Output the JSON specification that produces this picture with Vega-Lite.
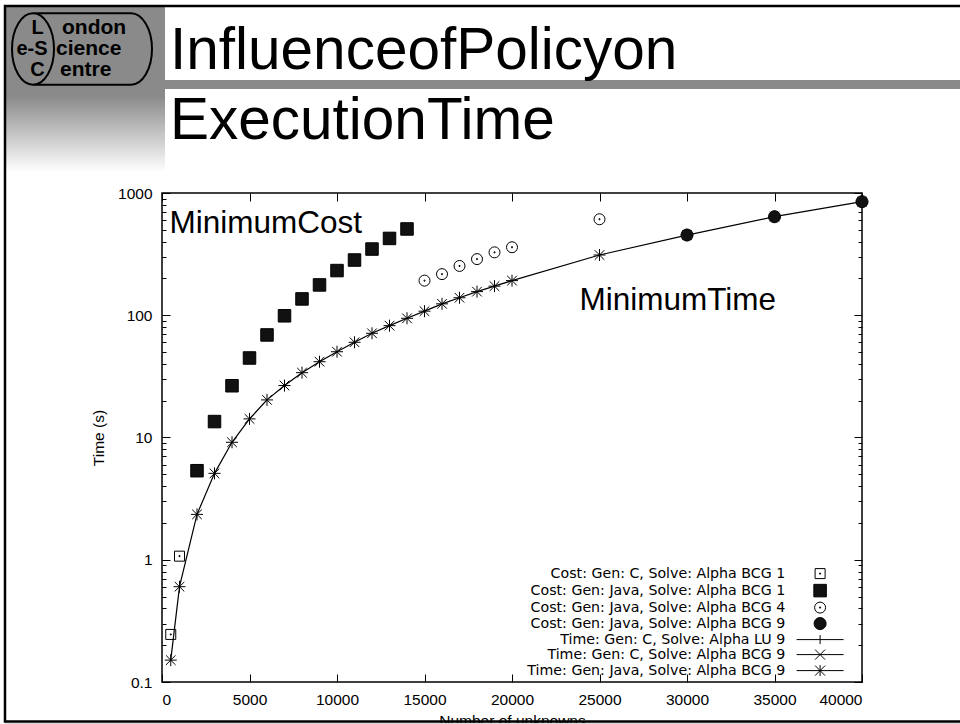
{
  "$schema": "https://vega.github.io/schema/vega-lite/v6.json",
  "width": 700,
  "height": 489,
  "autosize": {"type": "none"},
  "padding": {"left": 162, "top": 193, "right": 98, "bottom": 42},
  "background": "white",
  "config": {
    "view": {"stroke": "black", "strokeWidth": 1.5},
    "font": "Liberation Sans",
    "axis": {"grid": false, "domain": false, "labelFont": "Liberation Sans", "labelFontSize": 15, "labelColor": "black", "tickColor": "black", "tickWidth": 1, "titleFont": "Liberation Sans", "titleFontSize": 15, "titleFontWeight": "normal", "titleColor": "black"},
    "text": {"font": "Liberation Sans", "color": "black"}
  },
  "datasets": {
    "cost": [
      {"n": 500, "t": 0.245, "s": "Cost: Gen: C, Solve: Alpha BCG 1"},
      {"n": 1000, "t": 1.07, "s": "Cost: Gen: C, Solve: Alpha BCG 1"},
      {"n": 2000, "t": 5.35, "s": "Cost: Gen: Java, Solve: Alpha BCG 1"},
      {"n": 3000, "t": 13.5, "s": "Cost: Gen: Java, Solve: Alpha BCG 1"},
      {"n": 4000, "t": 26.5, "s": "Cost: Gen: Java, Solve: Alpha BCG 1"},
      {"n": 5000, "t": 44.7, "s": "Cost: Gen: Java, Solve: Alpha BCG 1"},
      {"n": 6000, "t": 69, "s": "Cost: Gen: Java, Solve: Alpha BCG 1"},
      {"n": 7000, "t": 99, "s": "Cost: Gen: Java, Solve: Alpha BCG 1"},
      {"n": 8000, "t": 136, "s": "Cost: Gen: Java, Solve: Alpha BCG 1"},
      {"n": 9000, "t": 177, "s": "Cost: Gen: Java, Solve: Alpha BCG 1"},
      {"n": 10000, "t": 232, "s": "Cost: Gen: Java, Solve: Alpha BCG 1"},
      {"n": 11000, "t": 283, "s": "Cost: Gen: Java, Solve: Alpha BCG 1"},
      {"n": 12000, "t": 348, "s": "Cost: Gen: Java, Solve: Alpha BCG 1"},
      {"n": 13000, "t": 425, "s": "Cost: Gen: Java, Solve: Alpha BCG 1"},
      {"n": 14000, "t": 508, "s": "Cost: Gen: Java, Solve: Alpha BCG 1"},
      {"n": 15000, "t": 192, "s": "Cost: Gen: Java, Solve: Alpha BCG 4"},
      {"n": 16000, "t": 217, "s": "Cost: Gen: Java, Solve: Alpha BCG 4"},
      {"n": 17000, "t": 253, "s": "Cost: Gen: Java, Solve: Alpha BCG 4"},
      {"n": 18000, "t": 288, "s": "Cost: Gen: Java, Solve: Alpha BCG 4"},
      {"n": 19000, "t": 327, "s": "Cost: Gen: Java, Solve: Alpha BCG 4"},
      {"n": 20000, "t": 360, "s": "Cost: Gen: Java, Solve: Alpha BCG 4"},
      {"n": 25000, "t": 610, "s": "Cost: Gen: Java, Solve: Alpha BCG 4"},
      {"n": 30000, "t": 453, "s": "Cost: Gen: Java, Solve: Alpha BCG 9"},
      {"n": 35000, "t": 640, "s": "Cost: Gen: Java, Solve: Alpha BCG 9"},
      {"n": 40000, "t": 849, "s": "Cost: Gen: Java, Solve: Alpha BCG 9"}
    ],
    "time": [
      {"n": 500, "t": 0.151, "s": "Time: Gen: Java, Solve: Alpha BCG 9"},
      {"n": 1000, "t": 0.602, "s": "Time: Gen: Java, Solve: Alpha BCG 9"},
      {"n": 2000, "t": 2.35, "s": "Time: Gen: Java, Solve: Alpha BCG 9"},
      {"n": 3000, "t": 5.09, "s": "Time: Gen: Java, Solve: Alpha BCG 9"},
      {"n": 4000, "t": 9.14, "s": "Time: Gen: Java, Solve: Alpha BCG 9"},
      {"n": 5000, "t": 14.2, "s": "Time: Gen: Java, Solve: Alpha BCG 9"},
      {"n": 6000, "t": 20.3, "s": "Time: Gen: Java, Solve: Alpha BCG 9"},
      {"n": 7000, "t": 26.6, "s": "Time: Gen: Java, Solve: Alpha BCG 9"},
      {"n": 8000, "t": 33.9, "s": "Time: Gen: Java, Solve: Alpha BCG 9"},
      {"n": 9000, "t": 41.7, "s": "Time: Gen: Java, Solve: Alpha BCG 9"},
      {"n": 10000, "t": 50.3, "s": "Time: Gen: Java, Solve: Alpha BCG 9"},
      {"n": 11000, "t": 60.1, "s": "Time: Gen: Java, Solve: Alpha BCG 9"},
      {"n": 12000, "t": 71.2, "s": "Time: Gen: Java, Solve: Alpha BCG 9"},
      {"n": 13000, "t": 82.2, "s": "Time: Gen: Java, Solve: Alpha BCG 9"},
      {"n": 14000, "t": 94.4, "s": "Time: Gen: Java, Solve: Alpha BCG 9"},
      {"n": 15000, "t": 108, "s": "Time: Gen: Java, Solve: Alpha BCG 9"},
      {"n": 16000, "t": 124, "s": "Time: Gen: Java, Solve: Alpha BCG 9"},
      {"n": 17000, "t": 139, "s": "Time: Gen: Java, Solve: Alpha BCG 9"},
      {"n": 18000, "t": 156, "s": "Time: Gen: Java, Solve: Alpha BCG 9"},
      {"n": 19000, "t": 173, "s": "Time: Gen: Java, Solve: Alpha BCG 9"},
      {"n": 20000, "t": 192, "s": "Time: Gen: Java, Solve: Alpha BCG 9"},
      {"n": 25000, "t": 311, "s": "Time: Gen: Java, Solve: Alpha BCG 9"},
      {"n": 30000, "t": 453, "s": "Time: Gen: Java, Solve: Alpha BCG 9"},
      {"n": 35000, "t": 640, "s": "Time: Gen: Java, Solve: Alpha BCG 9"},
      {"n": 40000, "t": 849, "s": "Time: Gen: Java, Solve: Alpha BCG 9"}
    ]
  },
  "resolve": {"axis": {"x": "independent", "y": "independent"}},
  "layer": [
    {
      "data": {"values": [{}]},
      "mark": {"type": "rect", "fill": {"gradient": "linear", "x1": 0, "y1": 0, "x2": 0, "y2": 1, "stops": [{"offset": 0, "color": "#8a8a8a"}, {"offset": 0.54, "color": "#8a8a8a"}, {"offset": 1, "color": "#ffffff"}]}},
      "encoding": {
        "x": {"datum": -8914.3, "type": "quantitative", "axis": null},
        "x2": {"datum": 171.4},
        "y": {"datum": 33225, "type": "quantitative", "axis": null},
        "y2": {"datum": 1485.3}
      }
    },
    {
      "data": {"values": [{}]},
      "mark": {"type": "rect", "fill": "#8a8a8a"},
      "encoding": {
        "x": {"datum": 171.4, "type": "quantitative", "axis": null},
        "x2": {"datum": 46171},
        "y": {"datum": 8401, "type": "quantitative", "axis": null},
        "y2": {"datum": 7091}
      }
    },
    {
      "data": {"values": [{}]},
      "mark": {"type": "point", "shape": "M-0.7,-0.511H0.7A0.3,0.511,0,0,1,0.7,0.511H-0.7A0.3,0.511,0,0,1,-0.7,-0.511Z M-0.7,-0.511A0.3,0.511,0,0,1,-0.7,0.511", "size": 19600, "filled": false, "stroke": "black", "strokeWidth": 2, "opacity": 1},
      "encoding": {
        "x": {"datum": -4571.4, "type": "quantitative", "axis": null},
        "y": {"datum": 15066, "type": "quantitative", "axis": null}
      }
    },
    {
      "data": {"values": [{}]},
      "mark": {"type": "text", "text": "L", "font": "Liberation Sans", "fontWeight": "bold", "fontSize": 20, "align": "center", "baseline": "alphabetic"},
      "encoding": {
        "x": {"datum": -7114.3, "type": "quantitative", "axis": null},
        "y": {"datum": 19979, "type": "quantitative", "axis": null}
      }
    },
    {
      "data": {"values": [{}]},
      "mark": {"type": "text", "text": "ondon", "font": "Liberation Sans", "fontWeight": "bold", "fontSize": 21, "align": "left", "baseline": "alphabetic"},
      "encoding": {
        "x": {"datum": -5714.3, "type": "quantitative", "axis": null},
        "y": {"datum": 19979, "type": "quantitative", "axis": null}
      }
    },
    {
      "data": {"values": [{}]},
      "mark": {"type": "text", "text": "e-S", "font": "Liberation Sans", "fontWeight": "bold", "fontSize": 20, "align": "center", "baseline": "alphabetic"},
      "encoding": {
        "x": {"datum": -7428.6, "type": "quantitative", "axis": null},
        "y": {"datum": 13454, "type": "quantitative", "axis": null}
      }
    },
    {
      "data": {"values": [{}]},
      "mark": {"type": "text", "text": "cience", "font": "Liberation Sans", "fontWeight": "bold", "fontSize": 21, "align": "left", "baseline": "alphabetic"},
      "encoding": {
        "x": {"datum": -6057.1, "type": "quantitative", "axis": null},
        "y": {"datum": 13454, "type": "quantitative", "axis": null}
      }
    },
    {
      "data": {"values": [{}]},
      "mark": {"type": "text", "text": "C", "font": "Liberation Sans", "fontWeight": "bold", "fontSize": 20, "align": "center", "baseline": "alphabetic"},
      "encoding": {
        "x": {"datum": -7114.3, "type": "quantitative", "axis": null},
        "y": {"datum": 9060, "type": "quantitative", "axis": null}
      }
    },
    {
      "data": {"values": [{}]},
      "mark": {"type": "text", "text": "entre", "font": "Liberation Sans", "fontWeight": "bold", "fontSize": 21, "align": "left", "baseline": "alphabetic"},
      "encoding": {
        "x": {"datum": -5828.6, "type": "quantitative", "axis": null},
        "y": {"datum": 9060, "type": "quantitative", "axis": null}
      }
    },
    {
      "data": {"values": [{}]},
      "mark": {"type": "text", "text": "InfluenceofPolicyon", "font": "Liberation Sans", "fontSize": 58.5, "align": "left", "baseline": "alphabetic"},
      "encoding": {
        "x": {"datum": 457.1, "type": "quantitative", "axis": null},
        "y": {"datum": 10335, "type": "quantitative", "axis": null}
      }
    },
    {
      "data": {"values": [{}]},
      "mark": {"type": "text", "text": "ExecutionTime", "font": "Liberation Sans", "fontSize": 58.5, "align": "left", "baseline": "alphabetic"},
      "encoding": {
        "x": {"datum": 457.1, "type": "quantitative", "axis": null},
        "y": {"datum": 2765, "type": "quantitative", "axis": null}
      }
    },
    {
      "data": {"name": "time"},
      "mark": {"type": "line", "color": "black", "strokeWidth": 1.2},
      "encoding": {
        "x": {"field": "n", "type": "quantitative", "scale": {"domain": [0, 40000], "nice": false, "zero": false},
              "axis": {"orient": "bottom", "values": [0, 5000, 10000, 15000, 20000, 25000, 30000, 35000, 40000], "format": "d", "ticks": false, "tickSize": 0, "labelPadding": 10, "labelFontSize": 15.5, "title": "Number of unknowns", "titleFontSize": 15.5, "titlePadding": 6}},
        "y": {"field": "t", "type": "quantitative", "scale": {"type": "log", "domain": [0.1, 1000], "nice": false},
              "axis": {"orient": "left", "values": [0.1, 1, 10, 100, 1000], "format": "~g", "ticks": false, "tickSize": 0, "labelPadding": 10, "labelFontSize": 15.5, "title": "Time (s)", "titleFontSize": 15.5, "titlePadding": 11}},
        "order": {"field": "n", "type": "quantitative"}
      }
    },
    {
      "data": {"name": "time"},
      "mark": {"type": "point", "shape": "M-1,0H1M0,-1V1M-0.8,-0.8L0.8,0.8M-0.8,0.8L0.8,-0.8", "size": 144, "filled": false, "stroke": "black", "strokeWidth": 1, "opacity": 1},
      "encoding": {
        "x": {"field": "n", "type": "quantitative", "axis": {"orient": "bottom", "values": [0, 5000, 10000, 15000, 20000, 25000, 30000, 35000, 40000], "labels": false, "tickSize": 8, "offset": -8, "title": null}},
        "y": {"field": "t", "type": "quantitative", "axis": {"orient": "left", "values": [0.1, 1, 10, 100, 1000], "labels": false, "tickSize": 8, "offset": -8, "title": null}}
      }
    },
    {
      "data": {"name": "cost"},
      "mark": {"type": "point", "size": 100, "stroke": "black", "strokeWidth": 1, "opacity": 1},
      "encoding": {
        "x": {"field": "n", "type": "quantitative", "axis": {"orient": "top", "values": [0, 5000, 10000, 15000, 20000, 25000, 30000, 35000, 40000], "labels": false, "tickSize": 8, "offset": -8, "title": null}},
        "y": {"field": "t", "type": "quantitative", "axis": {"orient": "left", "values": [0.2, 0.3, 0.4, 0.5, 0.6, 0.7, 0.8, 0.9, 2, 3, 4, 5, 6, 7, 8, 9, 20, 30, 40, 50, 60, 70, 80, 90, 200, 300, 400, 500, 600, 700, 800, 900], "labels": false, "tickSize": 4, "offset": -4, "title": null}},
        "shape": {"field": "s", "type": "nominal",
          "scale": {"domain": ["Cost: Gen: C, Solve: Alpha BCG 1", "Cost: Gen: Java, Solve: Alpha BCG 1", "Cost: Gen: Java, Solve: Alpha BCG 4", "Cost: Gen: Java, Solve: Alpha BCG 9", "Time: Gen: C, Solve: Alpha LU 9", "Time: Gen: C, Solve: Alpha BCG 9", "Time: Gen: Java, Solve: Alpha BCG 9"],
                    "range": ["M-1,-1H1V1H-1Z M-0.1,-0.1H0.1V0.1H-0.1Z", "M-1.25,-1.25H1.25V1.25H-1.25Z", "M1.1,0C1.1,0.6075,0.6075,1.1,0,1.1C-0.6075,1.1,-1.1,0.6075,-1.1,0C-1.1,-0.6075,-0.6075,-1.1,0,-1.1C0.6075,-1.1,1.1,-0.6075,1.1,0Z M-0.1,-0.1H0.1V0.1H-0.1Z", "M1.2,0C1.2,0.6628,0.6628,1.2,0,1.2C-0.6628,1.2,-1.2,0.6628,-1.2,0C-1.2,-0.6628,-0.6628,-1.2,0,-1.2C0.6628,-1.2,1.2,-0.6628,1.2,0Z", "M-4.7,0H4.7M0,-0.9V0.9", "M-4.7,0H4.7M-1,-1L1,1M-1,1L1,-1", "M-4.7,0H4.7M0,-1.1V1.1M-1,-1L1,1M-1,1L1,-1"]},
          "legend": {"orient": "none", "legendX": 651, "legendY": 373.5, "title": null, "padding": 0, "labelAlign": "right", "labelBaseline": "middle", "labelOffset": -42, "labelFont": "DejaVu Sans", "labelFontSize": 14.2, "labelColor": "black", "labelLimit": 400, "symbolSize": 100, "symbolStrokeColor": "black", "symbolStrokeWidth": 1, "symbolOpacity": 1, "rowPadding": 0, "symbolOffset": 0,
                     "encode": {"symbols": {"update": {"stroke": {"value": "black"}, "strokeWidth": {"value": 1}, "opacity": {"value": 1}}}}}},
        "fill": {"field": "s", "type": "nominal",
          "scale": {"domain": ["Cost: Gen: C, Solve: Alpha BCG 1", "Cost: Gen: Java, Solve: Alpha BCG 1", "Cost: Gen: Java, Solve: Alpha BCG 4", "Cost: Gen: Java, Solve: Alpha BCG 9", "Time: Gen: C, Solve: Alpha LU 9", "Time: Gen: C, Solve: Alpha BCG 9", "Time: Gen: Java, Solve: Alpha BCG 9"],
                    "range": ["transparent", "#111111", "transparent", "#111111", "transparent", "transparent", "transparent"]},
          "legend": {"orient": "none", "legendX": 651, "legendY": 373.5, "title": null, "padding": 0, "labelAlign": "right", "labelBaseline": "middle", "labelOffset": -42, "labelFont": "DejaVu Sans", "labelFontSize": 14.2, "labelColor": "black", "labelLimit": 400, "symbolSize": 100, "symbolStrokeColor": "black", "symbolStrokeWidth": 1, "symbolOpacity": 1, "rowPadding": 0, "symbolOffset": 0,
                     "encode": {"symbols": {"update": {"stroke": {"value": "black"}, "strokeWidth": {"value": 1}, "opacity": {"value": 1}}}}}}
      }
    },
    {
      "data": {"values": [{}]},
      "mark": {"type": "text", "text": "MinimumCost", "font": "Liberation Sans", "fontSize": 31.5, "align": "left", "baseline": "alphabetic"},
      "encoding": {
        "x": {"datum": 422.9, "type": "quantitative", "axis": null},
        "y": {"datum": 466.5, "type": "quantitative", "axis": {"orient": "right", "values": [0.1, 1, 10, 100, 1000], "labels": false, "tickSize": 8, "offset": -8, "title": null}}
      }
    },
    {
      "data": {"values": [{}]},
      "mark": {"type": "text", "text": "MinimumTime", "font": "Liberation Sans", "fontSize": 31.5, "align": "left", "baseline": "alphabetic"},
      "encoding": {
        "x": {"datum": 23851, "type": "quantitative", "axis": null},
        "y": {"datum": 110.4, "type": "quantitative", "axis": {"orient": "right", "values": [0.2, 0.3, 0.4, 0.5, 0.6, 0.7, 0.8, 0.9, 2, 3, 4, 5, 6, 7, 8, 9, 20, 30, 40, 50, 60, 70, 80, 90, 200, 300, 400, 500, 600, 700, 800, 900], "labels": false, "tickSize": 4, "offset": -4, "title": null}}
      }
    },
    {
      "data": {"values": [{}]},
      "mark": {"type": "rect", "fill": "#d9d9d9"},
      "encoding": {
        "x": {"datum": -8971.4, "type": "quantitative", "axis": null},
        "x2": {"datum": 46171},
        "y": {"datum": 0.0462, "type": "quantitative", "axis": null},
        "y2": {"datum": 0.023}
      }
    },
    {
      "data": {"values": [{}]},
      "mark": {"type": "rect", "fill": "transparent", "stroke": "black", "strokeWidth": 2.5},
      "encoding": {
        "x": {"datum": -8971.4, "type": "quantitative", "axis": null},
        "x2": {"datum": 46171},
        "y": {"datum": 33856, "type": "quantitative", "axis": null},
        "y2": {"datum": 0.04752}
      }
    }
  ]
}
